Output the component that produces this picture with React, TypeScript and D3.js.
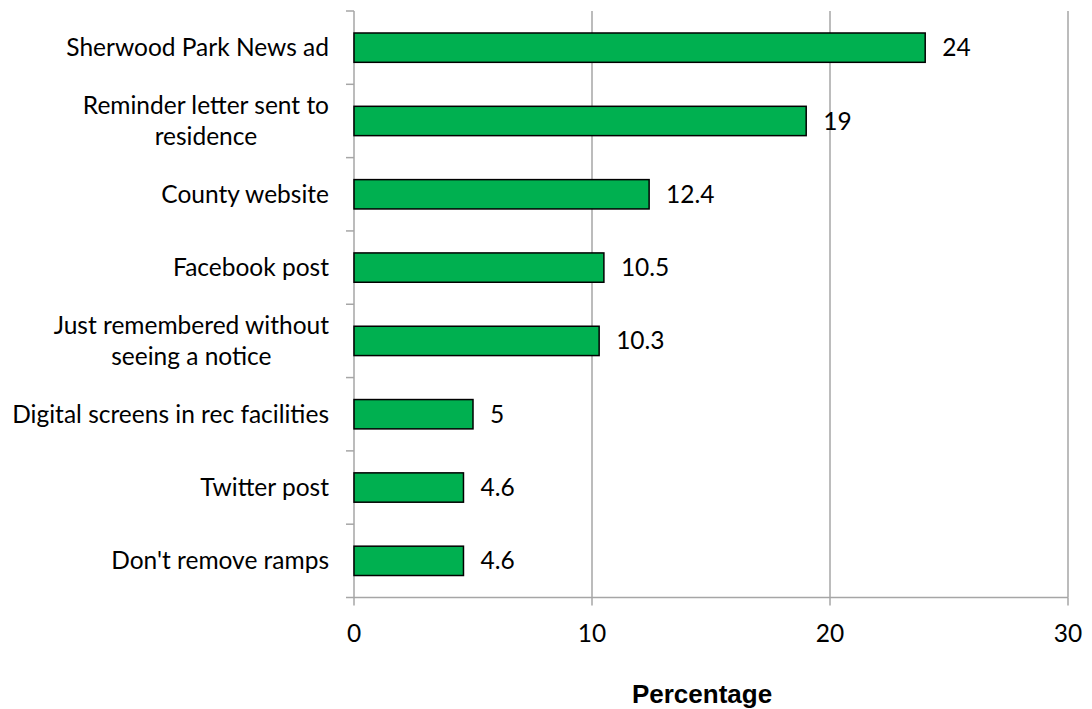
import React, { useEffect, useRef } from "react";
import * as d3 from "d3";

const categories: string[][] = [
  ["Sherwood Park News ad"],
  ["Reminder letter sent to", "residence"],
  ["County website"],
  ["Facebook post"],
  ["Just remembered without", "seeing a notice"],
  ["Digital screens in rec facilities"],
  ["Twitter post"],
  ["Don't remove ramps"],
];
const values: number[] = [24, 19, 12.4, 10.5, 10.3, 5, 4.6, 4.6];
const valueLabels: string[] = ["24", "19", "12.4", "10.5", "10.3", "5", "4.6", "4.6"];
const xTicks: number[] = [0, 10, 20, 30];
const xTitle = "Percentage";

const W = 1092;
const H = 709;
const FONT = "Lato, 'Open Sans', sans-serif";
const FS = 24.5;

export default function App() {
  const ref = useRef<SVGSVGElement | null>(null);
  useEffect(() => {
    const svg = d3.select(ref.current);
    svg.selectAll("*").remove();
    const left = 354, right = 1068, top = 11, bottom = 597.5;
    const x = d3.scaleLinear().domain([0, 30]).range([left, right]);
    const ids = categories.map((_, i) => String(i));
    const y = d3.scaleBand().domain(ids).range([top, bottom]).paddingInner(0.6).paddingOuter(0.3);
    const grid = "#a6a6a6";

    // gridlines
    svg.append("g").selectAll("line").data(xTicks.slice(1)).join("line")
      .attr("x1", d => x(d)).attr("x2", d => x(d)).attr("y1", top).attr("y2", bottom)
      .attr("stroke", grid).attr("stroke-width", 1.5);

    // x axis line + ticks
    svg.append("line").attr("x1", left).attr("x2", right).attr("y1", bottom).attr("y2", bottom)
      .attr("stroke", grid).attr("stroke-width", 1.5);
    svg.append("g").selectAll("line").data(xTicks).join("line")
      .attr("x1", d => x(d)).attr("x2", d => x(d)).attr("y1", bottom).attr("y2", bottom + 8)
      .attr("stroke", grid).attr("stroke-width", 1.5);
    svg.append("g").selectAll("text").data(xTicks).join("text")
      .attr("x", d => x(d)).attr("y", 642).attr("text-anchor", "middle")
      .attr("font-family", FONT).attr("font-size", FS).attr("fill", "#000")
      .text(d => String(d));

    // y axis line + ticks
    svg.append("line").attr("x1", left).attr("x2", left).attr("y1", top).attr("y2", bottom)
      .attr("stroke", grid).attr("stroke-width", 1.5);
    const bandEdges = d3.range(categories.length + 1).map(i => top + i * (bottom - top) / categories.length);
    svg.append("g").selectAll("line").data(bandEdges).join("line")
      .attr("x1", left - 8).attr("x2", left).attr("y1", d => d).attr("y2", d => d)
      .attr("stroke", grid).attr("stroke-width", 1.5);

    // bars
    svg.append("g").selectAll("rect").data(values).join("rect")
      .attr("x", x(0)).attr("y", (_, i) => y(ids[i])!)
      .attr("width", d => x(d) - x(0)).attr("height", y.bandwidth())
      .attr("fill", "#00b050").attr("stroke", "#000").attr("stroke-width", 1.5);

    // value labels
    svg.append("g").selectAll("text").data(values).join("text")
      .attr("x", d => x(d) + 17).attr("y", (_, i) => y(ids[i])! + y.bandwidth() / 2)
      .attr("dy", "0.35em")
      .attr("font-family", FONT).attr("font-size", FS).attr("fill", "#000")
      .text((_, i) => valueLabels[i]);

    // category labels
    const labelRight = 329;
    const lh = 31;
    categories.forEach((lines, i) => {
      const cy = y(ids[i])! + y.bandwidth() / 2;
      const g = svg.append("g");
      const texts = lines.map((ln, k) =>
        g.append("text").attr("font-family", FONT).attr("font-size", FS).attr("fill", "#000")
          .attr("text-anchor", "middle")
          .attr("y", cy + (k - (lines.length - 1) / 2) * lh).attr("dy", "0.35em").text(ln)
      );
      const maxW = d3.max(texts, t => (t.node() as SVGTextElement).getComputedTextLength()) || 0;
      texts.forEach(t => t.attr("x", labelRight - maxW / 2));
    });

    // title
    svg.append("text").attr("x", 702).attr("y", 703).attr("text-anchor", "middle")
      .attr("font-family", "'Liberation Sans', Arial, sans-serif").attr("font-weight", "bold")
      .attr("font-size", 26).attr("fill", "#000").text(xTitle);
  }, []);
  return (
    <svg ref={ref} width={W} height={H} style={{ position: "absolute", left: 0, top: 0, background: "#fff" }} />
  );
}
